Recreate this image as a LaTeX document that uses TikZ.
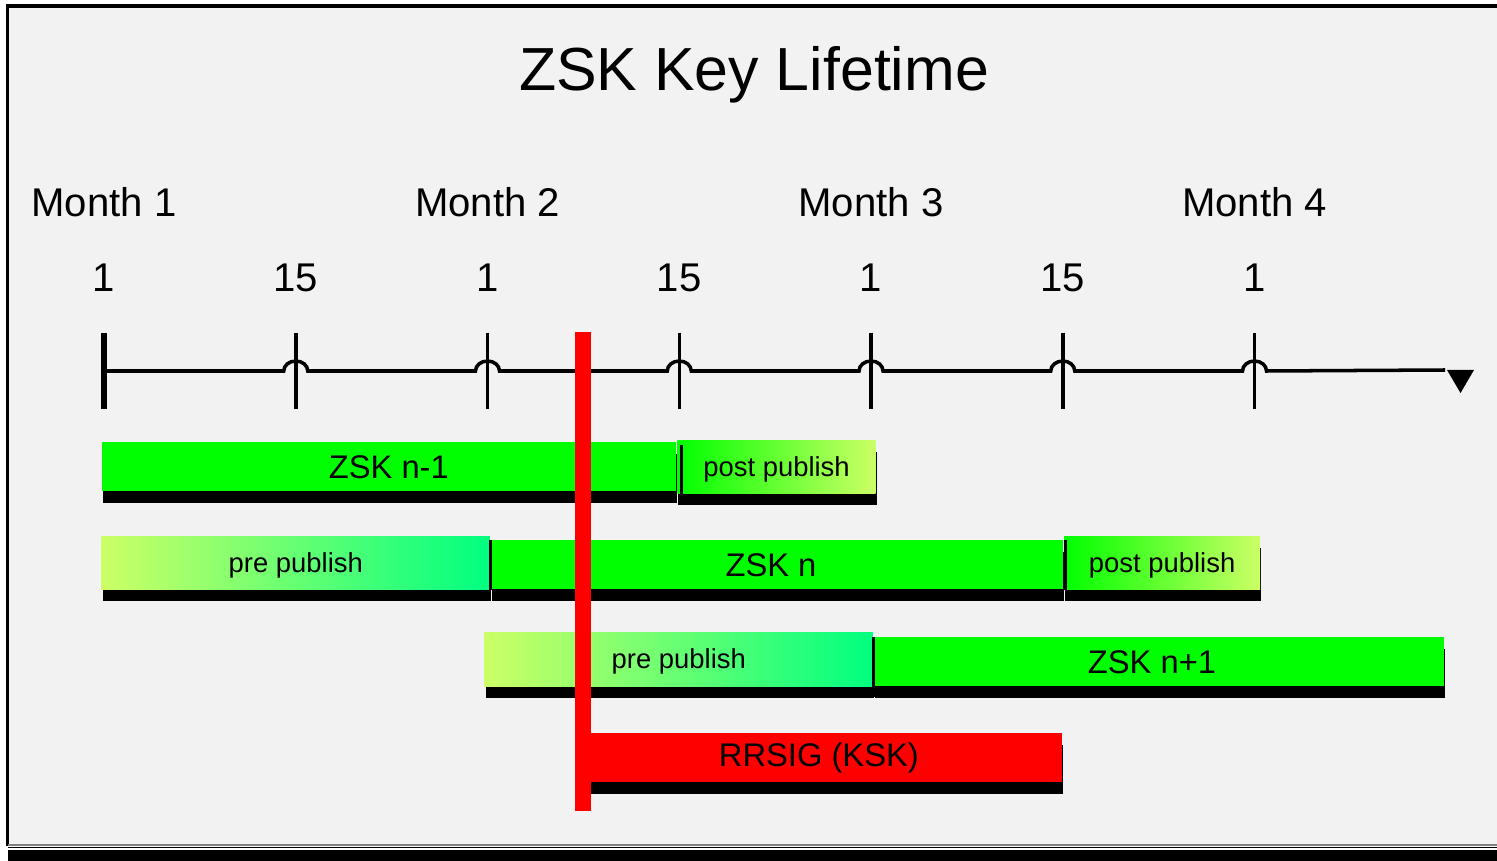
\documentclass[tikz,border=0pt]{standalone}
\usepackage{fontspec}
\setmainfont{Liberation Sans}
\usetikzlibrary{shadows}
\definecolor{keygreen}{HTML}{00FF00}
\definecolor{publight}{HTML}{CCFF66}
\definecolor{pubmint}{HTML}{00FF80}
\definecolor{panel}{HTML}{F2F2F2}
\newcommand{\titlefont}{\fontsize{17.3}{20}\selectfont}
\newcommand{\axisfont}{\fontsize{11.4}{13}\selectfont}
\newcommand{\keyfont}{\fontsize{9.3}{11}\selectfont}
\newcommand{\pubfont}{\fontsize{7.8}{9}\selectfont}
\tikzset{basebar/.style = {shape=rectangle,inner sep=0pt,anchor=south west,minimum height=0.49cm,
    drop shadow={shadow xshift=0.01cm,shadow yshift=-0.12cm,fill=black,opacity=1}}}
\tikzset{zskbar/.style = {basebar,fill=keygreen,font=\keyfont}}
\tikzset{pubbar/.style = {basebar,minimum height=0.53cm,font=\pubfont,text height=5.4pt,text depth=0pt}}
\tikzset{prebar/.style = {pubbar,left color=publight,right color=pubmint}}
\tikzset{postbar/.style = {pubbar,left color=keygreen,right color=publight}}
\tikzset{rrsigbar/.style = {basebar,fill=red,font=\keyfont}}
\tikzset{seam/.style = {draw,line width=0.9pt}}
\tikzset{axis/.style = {line width=1pt}}
\tikzset{tick/.style = {line width=1pt}}
\tikzset{daylabel/.style = {font=\axisfont}}
\tikzset{monthlabel/.style = {font=\axisfont}}
\tikzset{kskline/.style = {draw=red,line width=0.16cm}}

\begin{document}
\begin{tikzpicture}[x=0.01cm,y=-0.01cm]
        \useasboundingbox (0,0) rectangle (1497,861);
        \fill[white] (0,0) rectangle (1497,861);
        \fill[panel] (8,6) rectangle (1497,846);
        \draw[gray,line width=0.4pt] (8,4.5) -- (1497,4.5);
        \draw[line width=0.9pt] (7.5,846) -- (7.5,6) -- (1497,6);
        \draw[gray,line width=0.4pt] (8,845) -- (1497,845);
        \draw[line width=0.5pt] (8,847.5) -- (1497,847.5);
        \fill (8,850) rectangle (1497,861);

        \node[font=\titlefont] (title) at (754,75) {ZSK Key Lifetime};

        % time axis
        \foreach \d [count=\i from 0] in {1,15,1,15,1,15,1} {
            \coordinate (t\i) at ({104+191.75*\i},371);
            \node[daylabel] (d\i) at ({104+191.75*\i},278) {\d};
            \draw[tick] (t\i) ++(0,-38) -- ++(0,76);
        }
        \draw[line width=1.8pt] (t0) ++(0,-38) -- ++(0,76);
        \foreach \m in {1,2,3,4}
            \node[monthlabel] (m\m) at ({104+383.5*(\m-1)},202) {Month \m};
        \coordinate (tend) at (1445,370);
        \draw[axis] (t0) foreach \i in {1,...,6} {
            -- ([xshift=-0.12cm]t\i) arc[start angle=180,end angle=0,x radius=0.12cm,y radius=0.1cm] } -- (tend);
        \fill (tend) ++(2,0) -- ++(27,0) -- ++(-13.5,23) -- cycle;

        % key rows
        \node[zskbar,minimum width=5.74cm] (zskprev) at (101,492) {ZSK n-1};
        \node[postbar,minimum width=1.98cm] (postprev) at ([yshift=-0.02cm]zskprev.south east) {post publish};
        \draw[seam] ([xshift=0.045cm,yshift=-0.05cm]postprev.north west) -- ([xshift=0.045cm]postprev.south west);

        \node[prebar,minimum width=3.88cm] (precur) at (101,590) {pre publish};
        \node[zskbar,minimum width=5.71cm] (zskcur) at (precur.south east) {ZSK n\hspace*{0.12cm}};
        \node[postbar,minimum width=1.96cm] (postcur) at (zskcur.south east) {post publish};
        \draw[seam] (zskcur.north west) -- (zskcur.south west);
        \draw[seam] ([xshift=0.025cm]zskcur.north east) -- ([xshift=0.025cm]zskcur.south east);

        \node[prebar,minimum width=3.88cm,minimum height=0.54cm] (prenext) at (484,687) {pre publish};
        \node[zskbar,minimum width=5.69cm] (zsknext) at (prenext.south east) {ZSK n+1\hspace*{0.14cm}};
        \draw[seam] (zsknext.north west) -- ([yshift=-0.1cm]zsknext.south west);

        \node[rrsigbar,minimum width=4.86cm] (rrsig) at (575,783) {RRSIG (KSK)};

        \coordinate (ksktop) at (583,332);
        \coordinate (kskbot) at (583,811);
        \draw[kskline] (ksktop) -- (kskbot);
    \end{tikzpicture}
\end{document}
